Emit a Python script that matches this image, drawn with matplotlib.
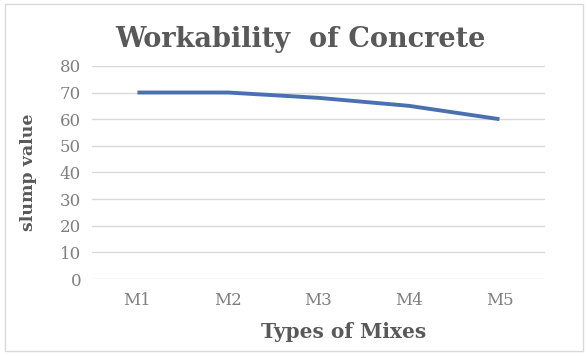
"""
Workability of concrete: slump value for mixes M1-M5
"""

### Import modules
import matplotlib.pyplot as plt
from matplotlib.patches import Rectangle

### Data
mixes = ['M1', 'M2', 'M3', 'M4', 'M5']
slump = [70, 70, 68, 65, 60]
yticks = [0, 10, 20, 30, 40, 50, 60, 70, 80]

### Plot
plt.rc('font', family='DejaVu Serif')

fig = plt.figure(figsize=(5.87, 3.56), dpi=100)
ax = fig.add_axes([0.157, 0.216, 0.771, 0.599])

x = list(range(len(mixes)))
ax.plot(x, slump, color='#4a70b0', linewidth=2.8, solid_capstyle='butt', zorder=3)

ax.set_xlim(-0.5, len(mixes) - 0.5)
ax.set_ylim(0, 80)
ax.set_xticks(x)
ax.set_xticklabels(mixes)
ax.set_yticks(yticks)
ax.set_yticklabels([str(v) for v in yticks])

for s in ax.spines.values():
    s.set_visible(False)
ax.tick_params(axis='both', length=0, labelsize=12, colors='#7f7f7f')
ax.tick_params(axis='x', pad=9)
ax.tick_params(axis='y', pad=8)
ax.yaxis.grid(True, color='#d9d9d9', linewidth=1, zorder=1)

fig.text(0.511, 0.888, 'Workability  of Concrete', fontsize=19.5,
         fontweight='bold', color='#595959', ha='center', va='center')
ax.set_xlabel('Types of Mixes', fontsize=14.5, fontweight='bold',
              color='#595959')
ax.xaxis.set_label_coords(0.556, -0.20)
ax.set_ylabel('slump value', fontsize=12.5, fontweight='bold',
              color='#595959')
ax.yaxis.set_label_coords(-0.121, 0.5)

### Chart border
fig.patches.append(Rectangle((0.008, 0.015), 0.985, 0.975, transform=fig.transFigure,
                             fill=False, edgecolor='#d9d9d9', linewidth=1))

plt.savefig('out.png', dpi=100)
